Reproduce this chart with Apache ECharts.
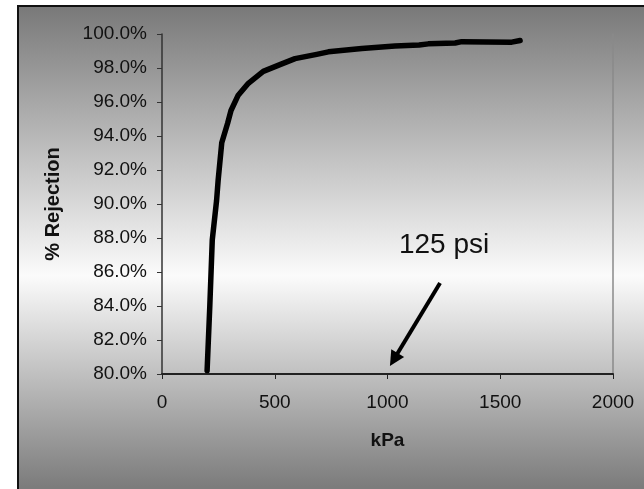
<!DOCTYPE html>
<html><head><meta charset="utf-8">
<script src="https://cdn.jsdelivr.net/npm/echarts@6/dist/echarts.min.js"></script>
<style>html,body{margin:0;padding:0;background:#fff}#c{width:644px;height:489px}</style>
</head><body><div id="c"></div>
<script>
var pressureKPa = [200, 212, 223, 242, 249, 265, 291, 306, 338, 383, 449, 523, 590, 686, 738, 886, 1033, 1140, 1181, 1300, 1329, 1551, 1588];
var rejectionPct = [80.2, 84.0, 87.9, 90.2, 91.4, 93.6, 94.75, 95.5, 96.4, 97.1, 97.8, 98.2, 98.55, 98.8, 98.95, 99.15, 99.3, 99.35, 99.42, 99.47, 99.55, 99.52, 99.62];
var xTicks = [0, 500, 1000, 1500, 2000];
var yTicks = [80, 82, 84, 86, 88, 90, 92, 94, 96, 98, 100];
var arrowFrom = [1233, 85.35];
var arrowTo = [1028, 80.85];
var noteText = '125 psi';
var notePos = [1251, 87.6];

var chart = echarts.init(document.getElementById('c'));
var font = '"Liberation Sans", Arial, sans-serif';
chart.setOption({
  animation: false,
  graphic: [{
    type: 'rect', z: -10, silent: true,
    shape: {x: 18, y: 6, width: 700, height: 600},
    style: {
      fill: new echarts.graphic.LinearGradient(0, 0, 0, 1, [
        {offset: 0, color: '#787878'},
        {offset: 0.45, color: '#fbfbfb'},
        {offset: 0.8, color: '#7c7c7c'},
        {offset: 1, color: '#7c7c7c'}
      ]),
      stroke: '#111', lineWidth: 2
    }
  }],
  grid: {left: 162, right: 31, top: 34, bottom: 115},
  xAxis: {
    type: 'value', min: xTicks[0], max: xTicks[xTicks.length - 1], interval: 500,
    name: 'kPa', nameLocation: 'middle', nameGap: 57,
    nameTextStyle: {fontFamily: font, fontWeight: 'bold', fontSize: 19, color: '#111'},
    axisLine: {lineStyle: {color: '#222', width: 2}},
    axisTick: {show: true, length: 5, lineStyle: {color: '#222'}},
    axisLabel: {fontFamily: font, fontSize: 19, color: '#111', margin: 19,
      formatter: function (v) { return String(v); }},
    splitLine: {show: false}
  },
  yAxis: [{
    type: 'value', min: yTicks[0], max: yTicks[yTicks.length - 1], interval: 2,
    name: '% Rejection', nameLocation: 'middle', nameGap: 99, nameRotate: 90,
    nameTextStyle: {fontFamily: font, fontWeight: 'bold', fontSize: 20, color: '#111'},
    axisLine: {show: true, lineStyle: {color: '#333', width: 1.5}},
    axisTick: {show: true, length: 5, lineStyle: {color: '#333'}},
    axisLabel: {fontFamily: font, fontSize: 19, color: '#111', margin: 15,
      formatter: function (v) { return v.toFixed(1) + '%'; }},
    splitLine: {show: false}
  }, {
    type: 'value', position: 'right', min: yTicks[0], max: yTicks[yTicks.length - 1],
    axisLine: {show: true, lineStyle: {color: '#8a8a8a', width: 1.5}},
    axisTick: {show: false}, axisLabel: {show: false}, splitLine: {show: false}
  }],
  series: [{
    type: 'line',
    data: pressureKPa.map(function (x, i) { return [x, rejectionPct[i]]; }),
    showSymbol: false, smooth: false,
    lineStyle: {color: '#000', width: 5.5, cap: 'round', join: 'round'},
    markLine: {
      silent: true, symbol: ['none', 'triangle'], symbolSize: 15,
      lineStyle: {color: '#000', width: 4, type: 'solid'},
      label: {show: false},
      data: [[{coord: arrowFrom}, {coord: arrowTo}]]
    },
    markPoint: {
      silent: true, symbolSize: 0,
      label: {show: true, formatter: noteText, fontFamily: font, fontSize: 28, color: '#111'},
      data: [{coord: notePos, value: noteText}]
    }
  }]
});
</script></body></html>
